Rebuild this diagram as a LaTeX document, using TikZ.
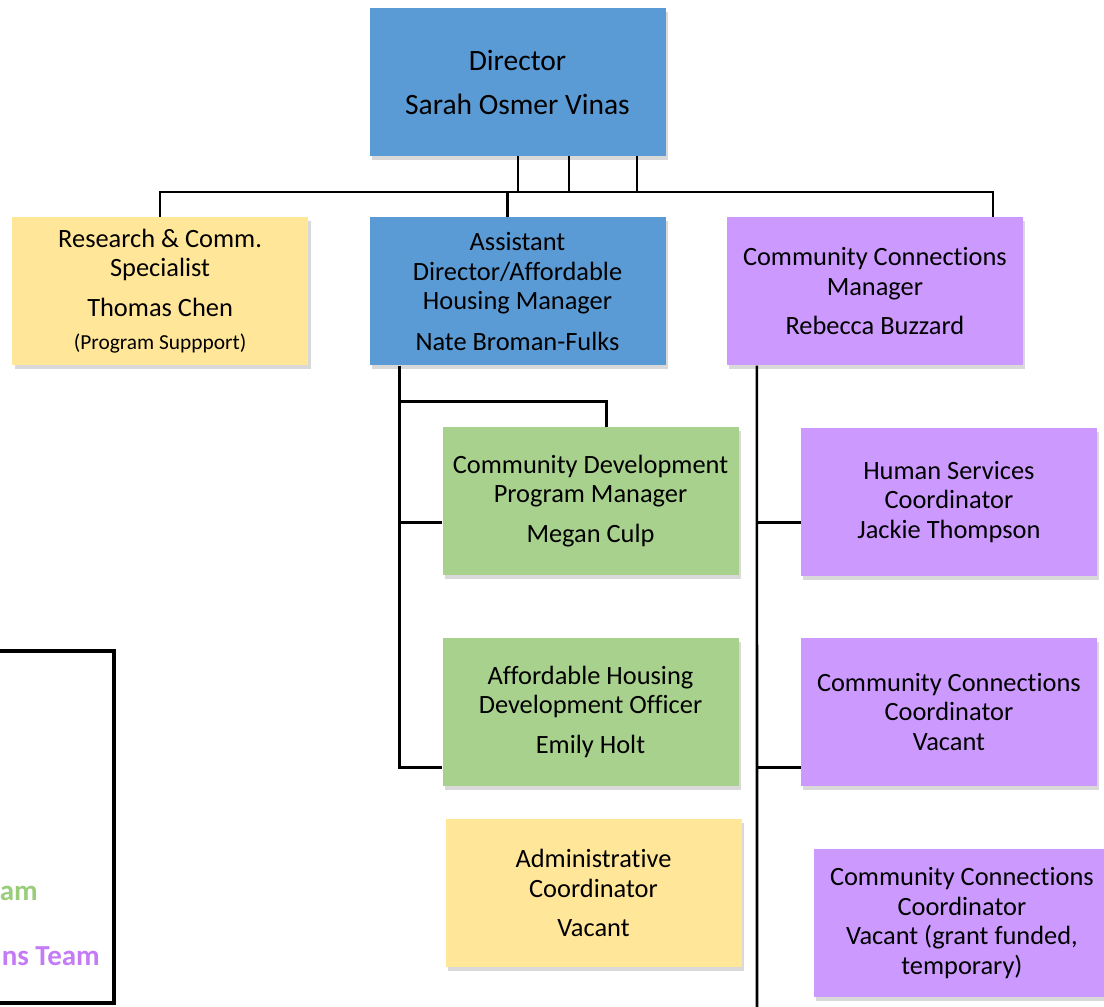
\documentclass[tikz,border=0pt]{standalone}
\usepackage{fontspec}
\setmainfont{Carlito}[Ligatures=NoCommon]
\usetikzlibrary{positioning,shadows}

\definecolor{orgblue}{HTML}{5B9BD5}
\definecolor{orgyellow}{HTML}{FFE699}
\definecolor{orggreen}{HTML}{A9D18E}
\definecolor{orgpurple}{HTML}{CC99FF}
\definecolor{leggreen}{HTML}{9ACD7A}
\definecolor{legpurple}{HTML}{C47CF6}

\begin{document}
\begin{tikzpicture}[
  x=1pt,y=-1pt,
  font=\fontsize{26.4}{29.5}\selectfont,
  box/.style    ={minimum width=296pt,minimum height=148pt,align=center,
                  inner sep=4pt,text=black,
                  drop shadow={shadow xshift=2.5pt,shadow yshift=-4pt,
                               opacity=0.3}},
  bluebox/.style={box,fill=orgblue},
  yelbox/.style ={box,fill=orgyellow},
  grnbox/.style ={box,fill=orggreen},
  purbox/.style ={box,fill=orgpurple},
  link/.style   ={draw=black,line width=2.6pt},
  legtxt/.style ={font=\fontsize{29}{32}\selectfont\bfseries,anchor=east,
                  inner sep=0pt},
]
\useasboundingbox (0,0) rectangle (1104,1007);

% ===================== Top: director and first level =====================
\node[bluebox,font=\fontsize{29.5}{32}\selectfont] (DIR) at (517.5,82)
  {Director\\[12pt]Sarah Osmer Vinas};

\node[bluebox,below=61pt of DIR] (AD)
  {Assistant\\Director/Affordable\\Housing Manager\\[11pt]Nate Broman-Fulks};

\node[yelbox,left=61pt of AD] (RES)
  {Research \& Comm.\\Specialist\\[10pt]Thomas Chen\\[4pt]
   {\fontsize{21.4}{24}\selectfont (Program Suppport)}};

\node[purbox,right=61pt of AD] (CCM)
  {Community Connections\\Manager\\[10pt]Rebecca Buzzard};

% bus under the director
\coordinate (bus) at (0,192);
\foreach \dx in {0.5,51.5,119.5}
  \draw[link] ([xshift=\dx pt]DIR.south) -- ([xshift=\dx pt]DIR.south |- bus);
\draw[link] (RES.north) -- (RES.north |- bus)
  -- ([xshift=118pt]CCM.north |- bus) -- ([xshift=118pt]CCM.north);
\draw[link] ([xshift=-10pt]AD.north |- bus) -- ([xshift=-10pt]AD.north);

% ===================== Affordable housing column =========================
\node[grnbox,below=61pt of AD,xshift=73pt] (CD)
  {Community Development\\Program Manager\\[10pt]Megan Culp};

\node[grnbox,below=62.5pt of CD] (AHO)
  {Affordable Housing\\Development Officer\\[10pt]Emily Holt};

\node[yelbox,below=33pt of AHO,xshift=3pt] (ADM)
  {Administrative\\Coordinator\\[10pt]Vacant};

\coordinate (sL) at ([xshift=-118pt,yshift=-36pt]AD.south);
\draw[link] ([xshift=-118pt]AD.south) |- ([yshift=-55.5pt]AHO.west);
\draw[link] (sL) -| ([xshift=16pt]CD.north);
\draw[link] ([yshift=-21.5pt]CD.west) -- ++(-43,0);

% ===================== Community connections column ======================
\node[purbox,below=62pt of CCM,xshift=74pt] (HSC)
  {Human Services\\Coordinator\\Jackie Thompson};

\node[purbox,below=61.5pt of HSC] (CCC)
  {Community Connections\\Coordinator\\Vacant};

\node[purbox,below=63pt of CCC,xshift=13pt] (CCG)
  {Community Connections\\Coordinator\\Vacant (grant funded,\\temporary)};

\coordinate (endR) at (757,1010);
\draw[link] ([xshift=-118pt]CCM.south) -- (endR);
\draw[link] ([yshift=-20.5pt]HSC.west) -- ++(-44,0);
\draw[link] ([yshift=-55.5pt]CCC.west) -- ++(-44,0);

% ===================== Legend (cut at the left edge) =====================
\node[draw=black,line width=4pt,minimum width=128pt,minimum height=352pt,
      inner sep=0pt] (LEG) at (50,827) {};
\node[legtxt,text=leggreen]  (LG1) at (38,893) {am};
\node[legtxt,text=legpurple] (LG2) at (100,956) {ns Team};

\end{tikzpicture}
\end{document}
